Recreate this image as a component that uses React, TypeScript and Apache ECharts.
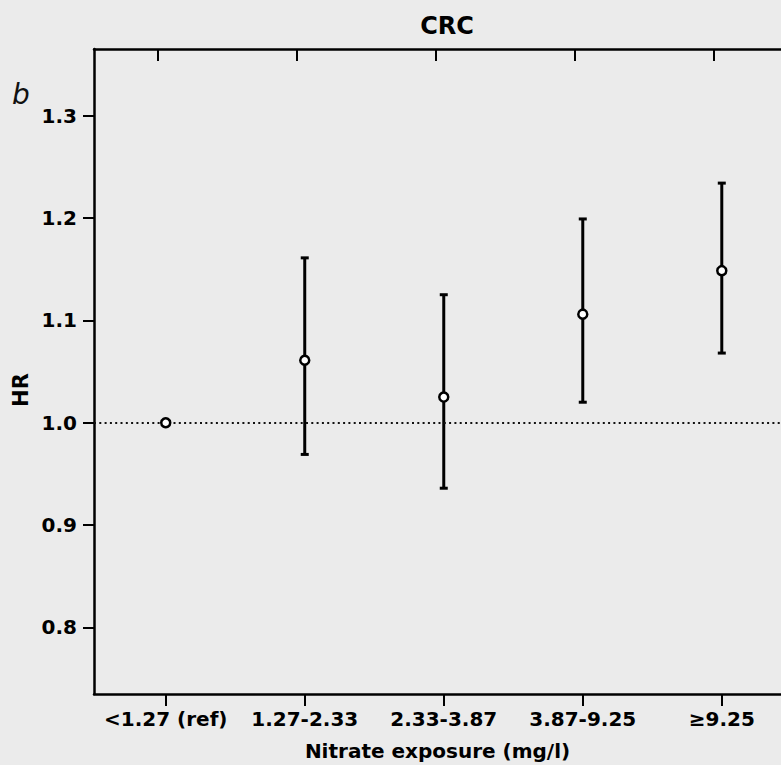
import React, { useEffect, useRef } from "react";
import * as echarts from "echarts";

const categories = ["<1.27 (ref)", "1.27-2.33", "2.33-3.87", "3.87-9.25", "≥9.25"];
const hr = [1.0, 1.061, 1.025, 1.106, 1.1485];
const lower = [1.0, 0.969, 0.936, 1.02, 1.068];
const upper = [1.0, 1.161, 1.125, 1.199, 1.234];
const yTicks = [0.8, 0.9, 1.0, 1.1, 1.2, 1.3];
const refLine = 1.0;
const topTickOffset = 0.055;

const FONT = "DejaVu Sans";

export default function App() {
  const ref = useRef<HTMLDivElement>(null);
  useEffect(() => {
    if (!ref.current) return;
    const chart = echarts.init(ref.current, null, { renderer: "svg" });
    const xPos = categories.map((_, i) => i + 1);
    const xMin = 0.484;
    const xMax = 5.426;
    const option: any = {
      animation: false,
      backgroundColor: "#ebebeb",
      title: {
        text: "CRC",
        left: 442,
        top: 9,
        textAlign: "center",
        textStyle: { fontFamily: FONT, fontWeight: "bold", fontSize: 24, color: "#000" },
      },
      grid: { left: 94, top: 49, right: 0, bottom: 71, containLabel: false, outerBoundsMode: "none" },
      xAxis: [
        {
          type: "value",
          position: "bottom",
          min: xMin,
          max: xMax,
          splitLine: { show: false },
          axisLine: { show: true, onZero: false, lineStyle: { color: "#000", width: 2.5 } },
          axisTick: { show: true, inside: false, length: 12, customValues: xPos, lineStyle: { color: "#000", width: 2 } },
          axisLabel: {
            show: true,
            customValues: xPos,
            margin: 15,
            formatter: (v: number) => categories[Math.round(v) - 1] ?? "",
            fontFamily: FONT,
            fontWeight: "bold",
            fontSize: 20,
            color: "#000",
          },
          name: "Nitrate exposure (mg/l)",
          nameLocation: "middle",
          nameGap: 47,
          nameTextStyle: { fontFamily: FONT, fontWeight: "bold", fontSize: 20, color: "#000" },
        },
        {
          type: "value",
          position: "top",
          min: xMin,
          max: xMax,
          splitLine: { show: false },
          axisLine: { show: true, onZero: false, lineStyle: { color: "#000", width: 2.5 } },
          axisTick: {
            show: true,
            inside: true,
            length: 12,
            customValues: xPos.map((p) => p - topTickOffset),
            lineStyle: { color: "#000", width: 2 },
          },
          axisLabel: { show: false },
        },
      ],
      yAxis: {
        type: "value",
        min: 0.735,
        max: 1.365,
        splitLine: { show: false },
        axisLine: { show: true, onZero: false, lineStyle: { color: "#000", width: 2.5 } },
        axisTick: { show: true, inside: false, length: 11, customValues: yTicks, lineStyle: { color: "#000", width: 2 } },
        axisLabel: {
          show: true,
          customValues: yTicks,
          margin: 17,
          formatter: (v: number) => v.toFixed(1),
          fontFamily: FONT,
          fontWeight: "bold",
          fontSize: 20,
          color: "#000",
        },
      },
      graphic: [
        {
          type: "text",
          x: 21,
          y: 390,
          rotation: Math.PI / 2,
          style: {
            text: "HR",
            fontFamily: FONT,
            fontWeight: "bold",
            fontSize: 21,
            fill: "#000",
            textAlign: "center",
            textVerticalAlign: "middle",
          },
        },
        {
          type: "text",
          x: 12,
          y: 94,
          style: {
            text: "b",
            fontFamily: FONT,
            fontStyle: "italic",
            fontWeight: "normal",
            fontSize: 28,
            fill: "#111",
            textAlign: "left",
            textVerticalAlign: "middle",
          },
        },
      ],
      series: [
        {
          type: "custom",
          z: 2,
          data: categories.map((_, i) => [i + 1, lower[i], upper[i]]),
          renderItem: (params: any, api: any) => {
            const x = api.value(0);
            const lo = api.value(1);
            const hi = api.value(2);
            if (lo === hi) return { type: "group", children: [] };
            const pLo = api.coord([x, lo]);
            const pHi = api.coord([x, hi]);
            const cap = 4;
            const style = { stroke: "#000", lineWidth: 3 };
            return {
              type: "group",
              children: [
                { type: "line", shape: { x1: pLo[0], y1: pLo[1], x2: pHi[0], y2: pHi[1] }, style },
                { type: "line", shape: { x1: pHi[0] - cap, y1: pHi[1], x2: pHi[0] + cap, y2: pHi[1] }, style },
                { type: "line", shape: { x1: pLo[0] - cap, y1: pLo[1], x2: pLo[0] + cap, y2: pLo[1] }, style },
              ],
            };
          },
          markLine: {
            silent: true,
            symbol: ["none", "none"],
            label: { show: false },
            lineStyle: { color: "#111", width: 2, type: [2, 3.3] },
            data: [{ yAxis: refLine }],
          },
        },
        {
          type: "scatter",
          z: 5,
          symbol: "circle",
          symbolSize: 9,
          itemStyle: { color: "#fff", borderColor: "#000", borderWidth: 2.5, opacity: 1 },
          data: categories.map((_, i) => [i + 1, hr[i]]),
        },
      ],
    };
    chart.setOption(option);
    return () => chart.dispose();
  }, []);
  return <div ref={ref} style={{ position: "absolute", left: 0, top: 0, width: 781, height: 765 }} />;
}
